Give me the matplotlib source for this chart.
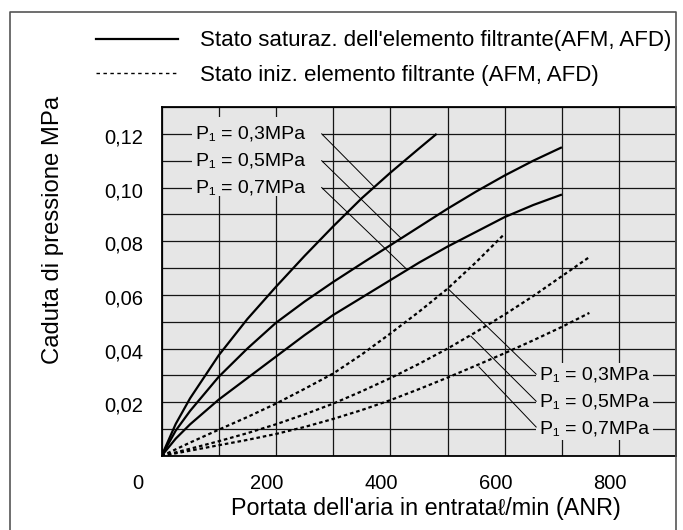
import matplotlib
matplotlib.use('Agg')
import matplotlib.pyplot as plt
from matplotlib.ticker import MultipleLocator
from matplotlib.patches import Rectangle
from matplotlib.lines import Line2D
from matplotlib.transforms import ScaledTranslation

# ---------------- data ----------------
# saturated filter element (solid)
sat_x_03 = [0, 25, 50, 100, 150, 200, 250, 300, 350, 400, 450, 481]
sat_y_03 = [0, 0.012, 0.0215, 0.0375, 0.051, 0.063, 0.0745, 0.0855, 0.096, 0.1055, 0.1145, 0.120]
sat_x_05 = [0, 25, 50, 100, 150, 200, 250, 300, 350, 400, 450, 500, 550, 600, 650, 700]
sat_y_05 = [0, 0.0095, 0.0168, 0.0295, 0.040, 0.0496, 0.0575, 0.0648, 0.0717, 0.0785, 0.0853,
            0.0921, 0.0985, 0.1045, 0.1100, 0.1150]
sat_x_07 = [0, 25, 50, 100, 150, 200, 250, 300, 350, 400, 450, 500, 550, 600, 650, 700]
sat_y_07 = [0, 0.0065, 0.0118, 0.021, 0.029, 0.037, 0.045, 0.0525, 0.059, 0.0655, 0.072,
            0.078, 0.0835, 0.089, 0.0935, 0.0974]

# initial filter element (dashed)
ini_x_03 = [0, 50, 100, 150, 200, 250, 300, 350, 400, 450, 500, 550, 600]
ini_y_03 = [0, 0.005, 0.0098, 0.0145, 0.0195, 0.025, 0.0307, 0.0378, 0.0456, 0.0537, 0.0623,
            0.0722, 0.0828]
ini_x_05 = [0, 50, 100, 150, 200, 250, 300, 350, 400, 450, 500, 550, 600, 650, 700, 748]
ini_y_05 = [0, 0.0027, 0.0055, 0.0085, 0.0118, 0.0155, 0.0195, 0.0241, 0.029, 0.0343, 0.040,
            0.0462, 0.0527, 0.0596, 0.067, 0.0741]
ini_x_07 = [0, 50, 100, 150, 200, 250, 300, 350, 400, 450, 500, 550, 600, 650, 700, 748]
ini_y_07 = [0, 0.002, 0.004, 0.006, 0.0082, 0.0108, 0.0138, 0.0171, 0.0208, 0.0249, 0.0292,
            0.0337, 0.0383, 0.0431, 0.0481, 0.0533]

pressure_labels = ['P\u2081 = 0,3MPa', 'P\u2081 = 0,5MPa', 'P\u2081 = 0,7MPa']
legend_labels = ["Stato saturaz. dell'elemento filtrante(AFM, AFD)",
                 "Stato iniz. elemento filtrante (AFM, AFD)"]

x_ticks = [0, 200, 400, 600, 800]
x_tick_labels = ['0', '200', '400', '600', '800']
y_ticks = [0.02, 0.04, 0.06, 0.08, 0.10, 0.12]
y_tick_labels = ['0,02', '0,04', '0,06', '0,08', '0,10', '0,12']

x_label = "Portata dell'aria in entrata\u2113/min (ANR)"
y_label = "Caduta di pressione MPa"

# leader lines: (label end point) -> (point on curve)
top_leaders_from = [(280, 0.120), (280, 0.110), (280, 0.100)]
top_leaders_to = [(371, 0.1004), (418, 0.0813), (427, 0.0699)]
bot_leaders_from = [(655, 0.0305), (655, 0.0204), (655, 0.0108)]
bot_leaders_to = [(501, 0.0623), (541, 0.0446), (555, 0.0332)]
top_label_y = [0.12, 0.11, 0.10]
bot_label_y = [0.03, 0.02, 0.01]

# ---------------- style ----------------
FONT = ['Liberation Sans', 'DejaVu Sans']
plt.rcParams['font.family'] = FONT
BG = '#e6e6e6'

W, H = 683, 530
fig = plt.figure(figsize=(W / 100, H / 100), dpi=100)
L, R, T, B = 161.5, 676.3, 107, 456
ax = fig.add_axes([L / W, 1 - B / H, (R - L) / W, (B - T) / H])
ax.set_xlim(0, 900)
ax.set_ylim(0, 0.13)
ax.set_facecolor(BG)
ax.xaxis.set_minor_locator(MultipleLocator(100))
ax.yaxis.set_minor_locator(MultipleLocator(0.01))
ax.set_xticks(x_ticks)
ax.set_xticklabels(x_tick_labels)
ax.set_yticks(y_ticks)
ax.set_yticklabels(y_tick_labels)
ax.set_axisbelow(True)
ax.grid(which='both', color='#151515', lw=0.9)
ax.tick_params(which='both', length=0, labelsize=14.5, pad=13)
for s in ax.spines.values():
    s.set_color('black')
    s.set_linewidth(1.3)

# shift tick labels like the original
x_offsets_px = [-23.5, -9, -9, -9, -9]
for tick, dx in zip(ax.xaxis.get_major_ticks(), x_offsets_px):
    tick.label1.set_transform(tick.label1.get_transform() +
                              ScaledTranslation(dx / 100, 0, fig.dpi_scale_trans))
for tick in ax.yaxis.get_major_ticks():
    tick.label1.set_transform(tick.label1.get_transform() +
                              ScaledTranslation(0, -2 / 100, fig.dpi_scale_trans))

# curves
solid_kw = dict(color='black', lw=1.6, solid_capstyle='butt', solid_joinstyle='round', zorder=3)
dash_kw = dict(color='black', lw=1.6, ls=(0, (1.6, 1.3)), zorder=3)
ax.plot(sat_x_03, sat_y_03, **solid_kw)
ax.plot(sat_x_05, sat_y_05, **solid_kw)
ax.plot(sat_x_07, sat_y_07, **solid_kw)
ax.plot(ini_x_03, ini_y_03, **dash_kw)
ax.plot(ini_x_05, ini_y_05, **dash_kw)
ax.plot(ini_x_07, ini_y_07, **dash_kw)

# label backgrounds (mask the grid)
ax.add_patch(Rectangle((53, 0.0968), 280 - 53, 0.1262 - 0.0968, fc=BG, ec='none', zorder=1))
ax.add_patch(Rectangle((655, 0.0060), 860 - 655, 0.0345 - 0.0060, fc=BG, ec='none', zorder=1))

for (x0, y0), (x1, y1) in zip(top_leaders_from, top_leaders_to):
    ax.plot([x0, x1], [y0, y1], color='black', lw=0.7, zorder=2)
for (x0, y0), (x1, y1) in zip(bot_leaders_from, bot_leaders_to):
    ax.plot([x0, x1], [y0, y1], color='black', lw=0.7, zorder=2)

for txt, y in zip(pressure_labels, top_label_y):
    ax.text(60, y, txt, ha='left', va='center', fontsize=14, zorder=4)
for txt, y in zip(pressure_labels, bot_label_y):
    ax.text(661.5, y, txt, ha='left', va='center', fontsize=14, zorder=4)

# axis titles
fig.text(426 / W, 1 - 509 / H, x_label, ha='center', va='center', fontsize=16.8)
fig.text(53 / W, 1 - 230 / H, y_label, ha='center', va='center', rotation=90, fontsize=17.2)

# legend
handles = [Line2D([], [], color='black', lw=1.6),
           Line2D([], [], color='black', lw=1.0, ls=(0, (2.5, 2.5)))]
fig.legend(handles=handles, labels=legend_labels, loc='center left',
           bbox_to_anchor=(96 / W, 1 - 58 / H), frameon=False, fontsize=16.0,
           handlelength=3.7, handletextpad=1.0, labelspacing=0.6,
           borderpad=0, borderaxespad=0)

# outer frame
fig.add_artist(Line2D([9.5 / W, 9.5 / W, R / W, R / W], [0, 1 - 11.7 / H, 1 - 11.7 / H, 0],
                      color='#555555', lw=1.2, transform=fig.transFigure))

fig.savefig('out.png', dpi=100)
